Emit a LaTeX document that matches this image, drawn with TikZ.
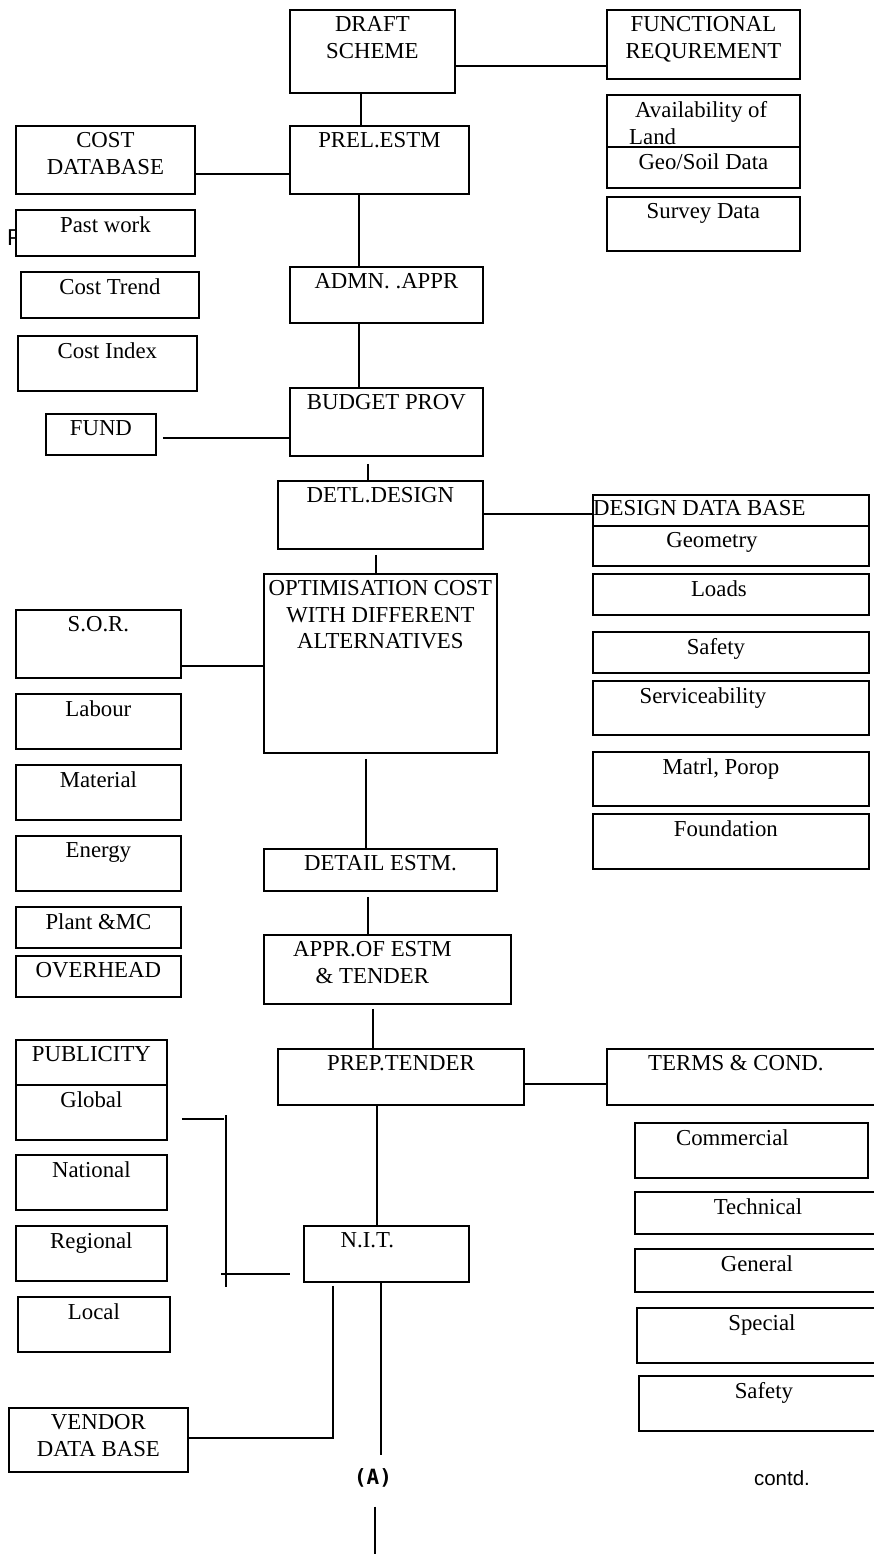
\documentclass[tikz,border=0pt]{standalone}
\usepackage{fontspec}
\setmainfont{Liberation Serif}
\newfontfamily\sansfnt{Liberation Sans}
\newfontfamily\monofnt{DejaVu Sans Mono}

\begin{document}
\begin{tikzpicture}[x=1pt, y=-1pt,
        box/.style 2 args={draw, line width=1.8pt, fill=white, anchor=north west,
          inner sep=0pt, minimum width=#1*1pt, minimum height=#2*1pt},
        lbl/.style={anchor=north, inner xsep=2pt, inner ysep=7.5pt, align=center,
          font=\fontsize{22.8}{26.5}\selectfont},
        txt/.style={label={[lbl]north:#1}},
        wire/.style={line width=1.5pt}
      ]
  \useasboundingbox (0,0) rectangle (874,1554);
  \clip (0,0) rectangle (874,1554);

  % main chain
  \node[box={165}{83}, txt={DRAFT\\SCHEME}] (draft) at (289,9) {};
  \node[box={179}{68}, txt={PREL.ESTM}] (prel) at (289,125) {};
  \node[box={193}{56}, txt={ADMN. .APPR}] (admn) at (289,266) {};
  \node[box={193}{68}, txt={BUDGET PROV}] (budget) at (289,387) {};
  \node[box={205}{68}, txt={DETL.DESIGN}] (detl) at (277,480) {};
  \node[box={233}{179}, txt={OPTIMISATION COST\\WITH DIFFERENT\\ALTERNATIVES}] (opt) at (263,573) {};
  \node[box={233}{42}, txt={DETAIL ESTM.}] (detail) at (263,848) {};
  \node[box={247}{69}, label={[lbl, xshift=-15pt]north:APPR.OF ESTM\\\& TENDER}] (appr) at (263,934) {};
  \node[box={246}{56}, txt={PREP.TENDER}] (prep) at (277,1048) {};
  \node[box={165}{56}, label={[lbl, xshift=-19pt]north:N.I.T.}] (nit) at (303,1225) {};

  % requirements
  \node[box={193}{69}, txt={FUNCTIONAL\\REQUREMENT}] (func) at (606,9) {};
  \node[box={193}{52}, label={[lbl, align=left, anchor=north west, xshift=21pt]north west:\hspace*{6pt}Availability of\\Land}] (avail) at (606,94) {};
  \node[box={193}{41}, txt={Geo/Soil Data}] (geo) at (606,146) {};
  \node[box={193}{54}, txt={Survey Data}] (survey) at (606,196) {};

  % cost data
  \node[font=\sansfnt\fontsize{23}{23}\selectfont, anchor=west, inner sep=0pt] (stray) at (7,238) {P};
  \node[box={179}{68}, txt={COST\\DATABASE}] (costdb) at (15,125) {};
  \node[box={179}{46}, txt={Past work}] (past) at (15,209) {};
  \node[box={178}{46}, txt={Cost Trend}] (trend) at (20,271) {};
  \node[box={179}{55}, txt={Cost Index}] (index) at (17,335) {};
  \node[box={110}{41}, txt={FUND}] (fund) at (45,413) {};

  \foreach \n/\y/\h/\t in {sor/609/68/S.O.R., labour/693/55/Labour, material/764/55/Material,
      energy/835/55/Energy, plant/906/41/Plant \&MC, overhead/955/41/OVERHEAD}
    \node[box={165}{\h}, txt=\t] (\n) at (15,\y) {};

  % design data
  \node[box={276}{31}, label={[lbl, anchor=north west, xshift=-1pt, inner ysep=6.5pt]north west:DESIGN DATA BASE}] (ddb) at (592,494) {};
  \foreach \n/\y/\h/\s/\t in {geom/525/40/-19/Geometry, loads/573/41/-12/Loads, safety/631/41/-15/Safety,
      service/680/54/-28/Serviceability, matrl/751/54/-10/{Matrl, Porop}, found/813/55/-5/Foundation}
    \node[box={276}{\h}, label={[lbl, xshift=\s pt]north:\t}] (\n) at (592,\y) {};

  % publicity
  \node[box={151}{45}, txt={PUBLICITY}] (publ) at (15,1039) {};
  \foreach \n/\y/\t in {global/1084/Global, national/1154/National, regional/1225/Regional}
    \node[box={151}{55}, txt=\t] (\n) at (15,\y) {};
  \node[box={152}{55}, txt={Local}] (local) at (17,1296) {};
  \node[box={179}{64}, txt={VENDOR\\DATA BASE}] (vendor) at (8,1407) {};

  % terms
  \node[box={280}{56}, label={[lbl, xshift=-11pt]north:TERMS \& COND.}] (terms) at (606,1048) {};
  \node[box={233}{55}, label={[lbl, xshift=-19pt]north:Commercial}] (comm) at (634,1122) {};
  \foreach \n/\x/\y/\h/\s/\t in {tech/634/1191/42/-2/Technical, general/634/1248/43/-3/General,
      special/636/1307/55/0/Special, safetyb/638/1375/55/0/Safety}
    \node[box={250}{\h}, label={[lbl, xshift=\s pt]north:\t}] (\n) at (\x,\y) {};

  % connectors
  \draw[wire] (draft.east |- 0,66) -- (func.west |- 0,66);
  \draw[wire] (draft.south -| 361,0) -- (prel.north -| 361,0);
  \draw[wire] (costdb.east |- 0,174) -- (prel.west |- 0,174);
  \draw[wire] (prel.south -| 359,0) -- (admn.north -| 359,0);
  \draw[wire] (admn.south -| 359,0) -- (budget.north -| 359,0);
  \path (fund.east |- 0,438) ++(6,0) coordinate (fundR);
  \draw[wire] (fundR) -- (budget.west |- fundR);
  \path (budget.south -| 368,0) ++(0,7) coordinate (budB);
  \draw[wire] (budB) -- (detl.north -| budB);
  \draw[wire] (detl.east |- 0,514) -- (ddb.west |- 0,514);
  \path (detl.south -| 376,0) ++(0,5) coordinate (detlB);
  \draw[wire] (detlB) -- (opt.north -| detlB);
  \draw[wire] (sor.east |- 0,666) -- (opt.west |- 0,666);
  \path (opt.south -| 366,0) ++(0,5) coordinate (optB);
  \draw[wire] (optB) -- (detail.north -| optB);
  \path (detail.south -| 368,0) ++(0,5) coordinate (detB);
  \draw[wire] (detB) -- (appr.north -| detB);
  \path (appr.south -| 373,0) ++(0,4) coordinate (apprB);
  \draw[wire] (apprB) -- (prep.north -| apprB);
  \draw[wire] (prep.east |- 0,1084) -- (terms.west |- 0,1084);
  \draw[wire] (prep.south -| 377,0) -- (nit.north -| 377,0);

  \path (global.east |- 0,1119) ++(14,0) coordinate (pubR);
  \coordinate (busT) at (226,1115);
  \coordinate (busB) at (226,1287);
  \coordinate (busL) at (221,1274);
  \path (nit.west |- busL) ++(-13,0) coordinate (nitW);
  \draw[wire] (pubR) -- ++(42,0);
  \draw[wire] (busT) -- (busB);
  \draw[wire] (busL) -- (nitW);

  \path (nit.south -| 333,0) ++(0,3) coordinate (nitV);
  \draw[wire] (nitV) |- (vendor.east |- 0,1438);

  \node[font=\monofnt\bfseries\fontsize{21}{21}\selectfont, inner sep=0pt] (tagA) at (373,1478) {(A)};
  \node[font=\sansfnt\fontsize{20.5}{20.5}\selectfont, inner sep=0pt] (contd) at (782,1478) {contd.};
  \path (tagA.north -| 381,0) ++(0,-13) coordinate (tagTop);
  \draw[wire] (nit.south -| 381,0) -- (tagTop);
  \path (tagA.south -| 375,0) ++(0,19) coordinate (tagBot);
  \coordinate (pageEnd) at (375,1560);
  \draw[wire] (tagBot) -- (pageEnd);

\end{tikzpicture}
\end{document}
